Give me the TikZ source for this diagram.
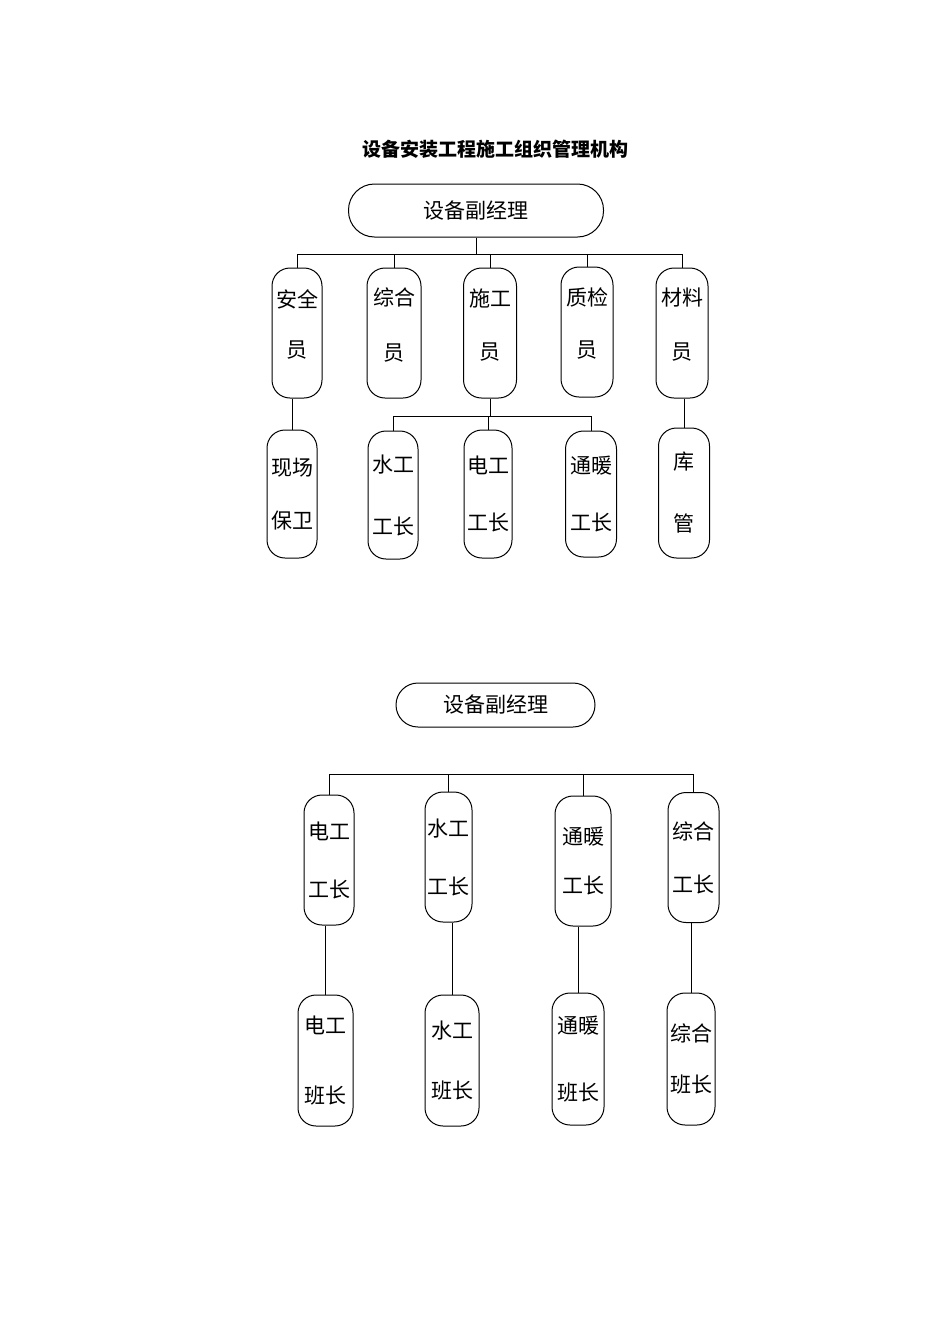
\documentclass[tikz,border=0pt]{standalone}
\usepackage{fontspec}
\newfontfamily\cjk{Noto Sans CJK SC}
\usepackage{tikz}
\usetikzlibrary{positioning,calc}
\tikzstyle{post}=[draw,rounded corners=18pt,minimum width=50pt,minimum height=130pt,inner sep=0pt,align=center,font=\cjk\fontsize{21}{24}\selectfont]
\tikzstyle{postup}=[post,text depth=18pt]
\tikzstyle{head}=[draw,minimum height=53pt,inner sep=0pt,font=\cjk\fontsize{21}{24}\selectfont]
\tikzstyle{link}=[line width=1pt]

\begin{document}
\begin{tikzpicture}[x=1pt,y=-1pt,line width=1pt]
\fill[white] (0,0) rectangle (950,1344);
\useasboundingbox (0,0) rectangle (950,1344);

\node (title) at (495,149) {\cjk\bfseries\fontsize{19}{24}\selectfont 设备安装工程施工组织管理机构};

% first chart
\node [head,minimum width=255pt,rounded corners=26pt] (mgr) at (476,210.5) {设备副经理};
\node [postup] (aqy) at (297,333) {安全\\[26pt]员};
\node [postup,minimum width=54pt] (zhy) at (394,333) {综合\\[31pt]员};
\node [postup,minimum width=53pt] (sgy) at (490,333) {施工\\[29pt]员};
\node [postup,minimum width=52pt] (zjy) at (587,332) {质检\\[28pt]员};
\node [postup,minimum width=52pt] (cly) at (682,333) {材料\\[30pt]员};

\node [post,minimum height=128pt] (xcbw) at (292,494) {现场\\[29pt]保卫};
\node [post,minimum height=128pt] (sggz) at (393,495) {水工\\[38pt]工长};
\node [post,minimum height=128pt,minimum width=48pt] (dggz) at (488,494) {电工\\[33pt]工长};
\node [post,minimum height=126pt,minimum width=51pt] (tngz) at (591,494) {通暖\\[33pt]工长};
\node [post,minimum height=130pt,minimum width=51pt] (kg) at (684,493) {库\\[38pt]管};

\coordinate (busa) at (0,254);
\coordinate (busb) at (0,416);
\draw [link] (mgr.south) -- (mgr.south |- busa);
\draw [link] (aqy.north) -- (aqy.north |- busa) -- (cly.north |- busa) -- (cly.north);
\foreach \n in {zhy,sgy,zjy}
  \draw [link] (\n.north) -- (\n.north |- busa);
\draw [link] (xcbw.north) -- (xcbw.north |- aqy.south);
\draw [link] (kg.north) -- (kg.north |- cly.south);
\draw [link] (sgy.south) -- (sgy.south |- busb);
\draw [link] (sggz.north) -- (sggz.north |- busb) -- (tngz.north |- busb) -- (tngz.north);
\draw [link] (dggz.north) -- (dggz.north |- busb);

% second chart
\node [head,minimum width=199pt,minimum height=44pt,rounded corners=22pt] (mgrb) at (495.5,705) {设备副经理};
\node [post] (dggzb) at (329,860) {电工\\[34pt]工长};
\node [post,minimum width=47pt] (sggzb) at (448.5,857) {水工\\[34pt]工长};
\node [post,minimum width=56pt] (tngzb) at (583,861) {通暖\\[25pt]工长};
\node [post,minimum width=51pt] (zhgz) at (693.5,857.5) {综合\\[29pt]工长};

\node [post,minimum width=55pt,minimum height=131pt] (dgbz) at (325.5,1060.5) {电工\\[46pt]班长};
\node [post,minimum width=54pt,minimum height=131pt] (sgbz) at (452,1060.5) {水工\\[36pt]班长};
\node [post,minimum width=52pt,minimum height=132pt] (tnbz) at (578,1059) {通暖\\[43pt]班长};
\node [post,minimum width=48pt,minimum height=132pt] (zhbz) at (691,1059) {综合\\[27pt]班长};

\coordinate (busc) at (0,774);
\draw [link] (dggzb.north) -- (dggzb.north |- busc) -- (zhgz.north |- busc) -- (zhgz.north);
\foreach \n in {sggzb,tngzb}
  \draw [link] (\n.north) -- (\n.north |- busc);
\draw [link] (dgbz.north) -- (dgbz.north |- dggzb.south);
\draw [link] (sgbz.north) -- (sgbz.north |- sggzb.south);
\draw [link] (tnbz.north) -- (tnbz.north |- tngzb.south);
\draw [link] (zhbz.north) -- (zhbz.north |- zhgz.south);
\end{tikzpicture}
\end{document}
